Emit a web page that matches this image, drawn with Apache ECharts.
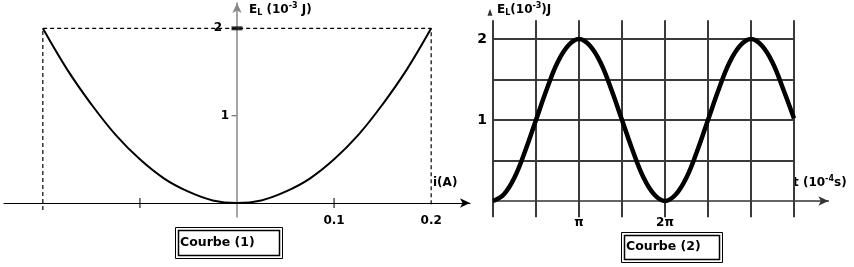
<!DOCTYPE html>
<html><head><meta charset="utf-8">
<script src="https://cdn.jsdelivr.net/npm/echarts@6/dist/echarts.min.js"></script>
<style>html,body{margin:0;padding:0;background:#fff}#c{width:854px;height:267px}</style>
</head><body><div id="c"></div>
<script>
// ---- Data: Courbe (1) E_L (10^-3 J) vs i (A)
const leftI = [-0.2,-0.175,-0.15,-0.125,-0.1,-0.075,-0.05,-0.025,0,0.025,0.05,0.075,0.1,0.125,0.15,0.175,0.2];
const leftE = [2,1.53,1.13,0.78,0.5,0.28,0.13,0.03,0,0.03,0.13,0.28,0.5,0.78,1.13,1.53,2];
const leftXTicks = [-0.1, 0.1];
const leftXLabelValues = [0.1, 0.2];
const leftXLabels = ['0.1', '0.2'];
const leftYLabelValues = [1, 2];
const leftYLabels = ['1', '2'];
const leftGuideI = [-0.2, -0.2, 0.2, 0.2];
const leftGuideE = [-0.08, 2, 2, -0.03];

// ---- Data: Courbe (2) E_L (10^-3 J) vs t (in units of pi x 10^-4 s)
const rightT = [0,0.125,0.25,0.375,0.5,0.625,0.75,0.875,1,1.125,1.25,1.375,1.5,1.625,1.75,1.875,2,2.125,2.25,2.375,2.5,2.625,2.75,2.875,3,3.125,3.25,3.375,3.5];
const rightE = [0,0.08,0.29,0.62,1,1.38,1.71,1.92,2,1.92,1.71,1.38,1,0.62,0.29,0.08,0,0.08,0.29,0.62,1,1.38,1.71,1.92,2,1.92,1.71,1.38,1.02];
const rightXLabelValues = [1, 2];
const rightXLabels = ['π', '2π'];
const rightYLabelValues = [1, 2];
const rightYLabels = ['1', '2'];
const rightGridX = [0,0.5,1,1.5,2,2.5,3,3.5];
const rightGridY = [0.5,1,1.5,2];

const FONT = 'DejaVu Sans';
const chart = echarts.init(document.getElementById('c'));

const vLines = rightGridX.map(x => [{coord:[x,-0.2]},{coord:[x,2.23]}]);
const hLines = rightGridY.map(y => [{coord:[0,y]},{coord:[3.5,y]}]);

const rich = {
  b:{fontFamily:FONT,fontWeight:'bold',fontSize:12,color:'#000'},
  s:{fontFamily:FONT,fontWeight:'bold',fontSize:8,color:'#000',padding:[6,0,0,0]},
  p:{fontFamily:FONT,fontWeight:'bold',fontSize:8,color:'#000',padding:[0,0,7,0]}
};

chart.setOption({
  animation:false,
  grid:[
    {left:4, top:3, width:466, height:214, containLabel:false, outerBoundsMode:'none'},
    {left:493, top:6.6, width:335.4, height:210.6, containLabel:false, outerBoundsMode:'none'}
  ],
  xAxis:[
    {gridIndex:0, type:'value', min:-0.24, max:0.24, position:'bottom', offset:-14,
     axisLine:{onZero:false, lineStyle:{color:'#000',width:1.2}, symbol:['none','arrow'], symbolSize:[7,10]},
     axisTick:{show:false}, splitLine:{show:false},
     axisLabel:{customValues:leftXLabelValues, margin:12, fontFamily:FONT, fontWeight:'bold', fontSize:12, color:'#000',
       formatter:v=>leftXLabels[leftXLabelValues.indexOf(v)]}},
    {gridIndex:1, type:'value', min:0, max:3.9, position:'bottom', offset:-16.2,
     axisLine:{onZero:false, lineStyle:{color:'#333',width:1.5}, symbol:['none','arrow'], symbolSize:[7,10]},
     axisTick:{show:false}, splitLine:{show:false},
     axisLabel:{customValues:rightXLabelValues, margin:16, fontFamily:FONT, fontWeight:'bold', fontSize:12, color:'#000',
       formatter:v=>rightXLabels[rightXLabelValues.indexOf(v)]}}
  ],
  yAxis:[
    {gridIndex:0, type:'value', min:-0.16, max:2.29, position:'left', offset:-233,
     axisLine:{onZero:false, lineStyle:{color:'#888',width:1.5}, symbol:['none','arrow'], symbolSize:[7,10]},
     axisTick:{show:false}, splitLine:{show:false},
     axisLabel:{customValues:leftYLabelValues, margin:6,
       formatter:v=> v===2 ? '{a|2}' : '{c|1}',
       rich:{a:{fontFamily:FONT,fontWeight:'bold',fontSize:12,color:'#000',padding:[0,9,0,0]},
             c:{fontFamily:FONT,fontWeight:'bold',fontSize:12,color:'#000',padding:[0,2,0,0]}}}},
    {gridIndex:1, type:'value', min:-0.2, max:2.4,
     axisLine:{show:false}, axisTick:{show:false}, splitLine:{show:false},
     axisLabel:{customValues:rightYLabelValues, margin:6, fontFamily:FONT, fontWeight:'bold', fontSize:14, color:'#000',
       formatter:v=>rightYLabels[rightYLabelValues.indexOf(v)]}}
  ],
  series:[
    {type:'line', xAxisIndex:0, yAxisIndex:0, data:leftGuideI.map((x,i)=>[x,leftGuideE[i]]),
     symbol:'none', lineStyle:{color:'#000', width:1.2, type:[4,3]}, z:2},
    {type:'line', xAxisIndex:0, yAxisIndex:0, data:leftI.map((x,i)=>[x,leftE[i]]),
     smooth:0.4, symbol:'none', lineStyle:{color:'#000', width:2}, z:3},
    {type:'scatter', xAxisIndex:0, yAxisIndex:0, data:leftXTicks.map(x=>[x,0]),
     symbol:'rect', symbolSize:[1.3,10], itemStyle:{color:'#000'}, z:4, silent:true},
    {type:'scatter', xAxisIndex:0, yAxisIndex:0, data:[[0,2]],
     symbol:'rect', symbolSize:[11,4], itemStyle:{color:'#000'}, z:4, silent:true},
    {type:'scatter', xAxisIndex:0, yAxisIndex:0, data:[[0,1]],
     symbol:'rect', symbolSize:[5,1.3], symbolOffset:[-3,0], itemStyle:{color:'#555'}, z:4, silent:true},
    {type:'line', xAxisIndex:1, yAxisIndex:1, data:rightT.map((x,i)=>[x,rightE[i]]),
     smooth:0.4, symbol:'none', lineStyle:{color:'#000', width:4.5}, z:5,
     markLine:{silent:true, symbol:'none', label:{show:false}, animation:false,
       lineStyle:{color:'#3a3a3a', width:2, type:'solid'},
       data: vLines.concat(hLines), z:1}},
    {type:'scatter', xAxisIndex:1, yAxisIndex:1, data:[[0,2.33]],
     symbol:'triangle', symbolSize:[5,7], symbolOffset:[-3,0], itemStyle:{color:'#000'}, z:4, silent:true}
  ],
  graphic:[
    {type:'text', left:249, top:2, style:{text:'{b|E}{s|L}{b| (10}{p|-3}{b| J)}', rich:rich}},
    {type:'text', left:433, top:177, style:{text:'i(A)', fontFamily:FONT, fontWeight:'bold', fontSize:12, fill:'#000'}},
    {type:'text', left:497, top:2, style:{text:'{b|E}{s|L}{b|(10}{p|-3}{b|)J}', rich:rich}},
    {type:'text', left:793, top:175, style:{text:'{b|t (10}{p|-4}{b|s)}', rich:rich}},
    {type:'rect', shape:{x:175.5,y:227.5,width:107,height:31}, style:{fill:null, stroke:'#000', lineWidth:1}},
    {type:'rect', shape:{x:178.5,y:230.5,width:101,height:25}, style:{fill:null, stroke:'#000', lineWidth:1.5}},
    {type:'text', left:180, top:236, style:{text:'Courbe (1)', fontFamily:FONT, fontWeight:'bold', fontSize:12.5, fill:'#000'}},
    {type:'rect', shape:{x:621.5,y:232.5,width:101,height:30}, style:{fill:null, stroke:'#000', lineWidth:1}},
    {type:'rect', shape:{x:624.5,y:235.5,width:95,height:24}, style:{fill:null, stroke:'#000', lineWidth:1.5}},
    {type:'text', left:626, top:240, style:{text:'Courbe (2)', fontFamily:FONT, fontWeight:'bold', fontSize:12.5, fill:'#000'}}
  ]
});
</script></body></html>
